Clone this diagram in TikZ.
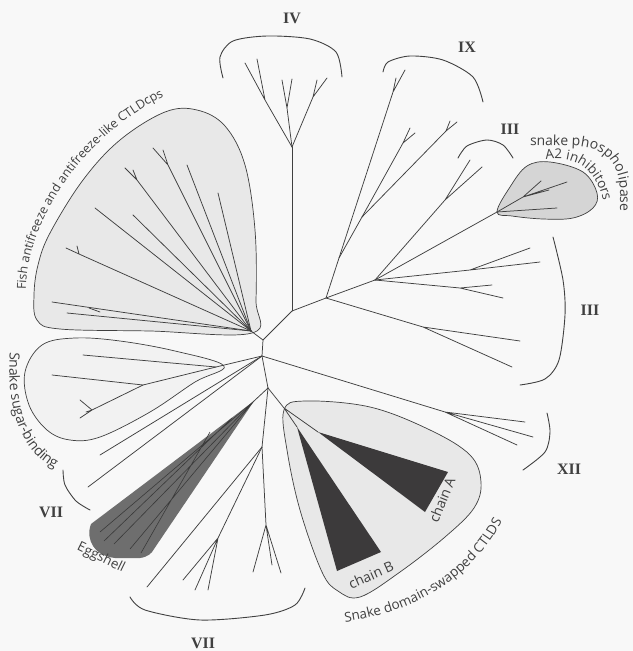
\documentclass[tikz,border=0pt]{standalone}
\usepackage{fontspec}
\setmainfont{Liberation Serif}
\newfontfamily\labfont{Open Sans}
\usetikzlibrary{decorations.text}
\definecolor{ink}{HTML}{404040}
\definecolor{bgc}{HTML}{F8F8F8}
\definecolor{blobA}{HTML}{E8E8E8}
\definecolor{blobS}{HTML}{F2F2F2}
\definecolor{blobP}{HTML}{D5D5D5}
\definecolor{eggc}{HTML}{6E6E6E}
\definecolor{eggline}{HTML}{3A3A3A}
\definecolor{chainc}{HTML}{3C3A3B}
\begin{document}
\begin{tikzpicture}[x=1bp,y=-1bp,
  br/.style={draw=ink,line width=0.75bp,line cap=round,line join=round},
  bracket/.style={draw=ink,line width=0.9bp,line cap=round},
  roman/.style={font=\bfseries\fontsize{16}{16}\selectfont,text=ink,inner sep=0pt},
  lab/.style={font=\labfont\fontsize{14}{14}\selectfont,text=ink,inner sep=0pt},
  blob/.style={draw=ink,line width=0.7bp},
  curvetext/.style={decorate,decoration={text along path,text color=ink,text={#1}}}]
\useasboundingbox (0,0) rectangle (633,651);
\fill[bgc] (0,0) rectangle (633,651);

% ---------- clade areas ----------
\filldraw[blob,fill=blobA] plot[smooth cycle,tension=0.6] coordinates {(252,333) (150,331) (60,329) (37,320) (34,295) (38,265) (50,233) (83,180) (120,140) (165,112) (197,110) (225,126) (245,165) (255,230) (256,300)};
\filldraw[blob,fill=blobS] plot[smooth cycle,tension=0.6] coordinates {(224,366) (175,351) (120,341) (75,338) (42,345) (25,372) (29,405) (47,430) (70,440) (100,437) (150,412) (195,382)};
\filldraw[blob,fill=blobA] plot[smooth cycle,tension=0.6] coordinates {(284,410) (305,401) (370,407) (430,430) (470,455) (481,482) (474,508) (445,537) (400,572) (360,597) (338,591) (322,572) (300,510) (287,450)};
\filldraw[blob,fill=blobP] plot[smooth cycle,tension=0.6] coordinates {(497,212) (510,187) (527,166) (550,162) (583,172) (597,193) (593,208) (573,218) (543,219) (512,216)};

% ---------- junctions ----------
\coordinate (F) at (251,331);
\coordinate (A) at (263,340);
\coordinate (K) at (292,311);
\coordinate (J1) at (326,298);
\coordinate (J2) at (375,280);
\coordinate (R) at (262,356);
\coordinate (R2) at (268,388);
\coordinate (S0) at (216,367);
\coordinate (IV0) at (292,147);
\coordinate (IXf) at (393,92);
\coordinate (A1) at (339,258);
\coordinate (A2) at (403,143);
\coordinate (B1) at (362,217);
\coordinate (B2) at (446,131);
\coordinate (C1) at (470,270);
\coordinate (C2) at (460,288);
\coordinate (U1) at (445,200);
\coordinate (P) at (497,212);
\coordinate (P1) at (523,197);
\coordinate (G1) at (423,327);
\coordinate (X1) at (445,412);
\coordinate (S1) at (143,385);
\coordinate (S2) at (92,410);
\coordinate (E0) at (254,401);
\coordinate (V1) at (262,447);
\coordinate (V2) at (218,538);
\coordinate (V3) at (266,525);
\coordinate (D) at (284,408);
\coordinate (CB) at (297,427);
\coordinate (CA) at (318,432);

% ---------- eggshell wedge ----------
\fill[eggc] (E0) -- (91,524) .. controls (85,540) and (95,556) .. (115,558) -- (140,558) .. controls (148,557) and (152,553) .. (154,549) -- cycle;
\draw[eggline,line width=0.6bp] (E0) -- (100,532) (E0) -- (114,544) (E0) -- (130,549) (210,432) -- (141,553) (232,418) -- (104,541);

% ---------- chains ----------
\fill[chainc] (CB) -- (337,571) -- (381,552) -- cycle;
\fill[chainc] (CA) -- (448,472) -- (425,512) -- cycle;

% ---------- backbone ----------
\draw[br] (F) -- (A) -- (K) -- (J1) -- (J2);
\draw[br] (A) -- (R) -- (R2);
\draw[br] (K) -- (IV0);
\draw[br] (R2) -- (E0);
\draw[br] (R2) -- (D) (D) -- (CB) (D) -- (CA);
\draw[br] (R2) -- (V1);

% IV
\coordinate (IVa) at (265,100); \coordinate (IVb) at (287,108); \coordinate (IVc) at (313,97);
\draw[br] (IV0) -- (IVa) -- (245,63) (IVa) -- (257,59);
\draw[br] (IV0) -- (IVb) -- (282,80) (IVb) -- (292,79);
\draw[br] (IV0) -- (IVc) -- (327,78) (IVc) -- (317,80);

% IX and neighbours
\draw[br] (J1) -- (A1) -- (IXf) -- (405,70) (IXf) -- (396,78);
\draw[br] (A1) -- (B1) -- (A2) -- (410,128) (A2) -- (415,133);
\draw[br] (B1) -- (B2) -- (450,121) (B2) -- (457,122);

% III lower, III upper, PLA2
\draw[br] (J2) -- (C1) -- (540,262) (C1) -- (530,248);
\draw[br] (J2) -- (C2) -- (492,285) (C2) -- (503,298);
\draw[br] (J2) -- (U1) -- (482,167) (U1) -- (470,160);
\draw[br] (J2) -- (P) -- (557,208);
\draw[br] (P) -- (P1) -- (567,182) (P1) -- (541,181) (P1) -- (549,190);
\draw[br] (J1) -- (G1) -- (520,341) (G1) -- (512,367);

% XII
\draw[br] (R) -- (X1) -- (525,422) (X1) -- (533,437) (X1) -- (517,445);

% fish
\draw[br] (F) -- (218,193);
\draw[br] (F) -- (187,165);
\draw[br] (F) -- (168,165) -- (153,148) (168,165) -- (163,150);
\draw[br] (F) -- (137,180) -- (125,168) (137,180) -- (133,170);
\draw[br] (F) -- (133,215);
\draw[br] (F) -- (95,208);
\draw[br] (F) -- (79,254) -- (66,248) (79,254) -- (77,246);
\draw[br] (F) -- (52,302);
\draw[br] (F) -- (67,313) (100,312) -- (89,308);

% sugar-binding
\draw[br] (R) -- (S0) -- (83,355);
\draw[br] (S0) -- (S1) -- (52,375);
\draw[br] (S1) -- (S2) -- (80,400) (S2) -- (80,418) (S2) -- (86,412);

% lines between
\draw[br] (R) -- (100,455);
\draw[br] (R) -- (88,487);

% VII lower
\draw[br] (V1) -- (147,587);
\draw[br] (V1) -- (V2) -- (183,580) (V2) -- (195,590) (V2) -- (208,590);
\draw[br] (V1) -- (V3) -- (253,572) (V3) -- (272,565) (V3) -- (281,573);

% ---------- brackets ----------
\draw[bracket] plot[smooth] coordinates {(223,78) (220,57) (233,41) (267,36) (310,39) (336,52) (342,77)};
\draw[bracket] plot[smooth] coordinates {(383,72) (388,62) (410,56) (443,60) (473,77) (483,102)};
\draw[bracket] plot[smooth] coordinates {(458,158) (467,146) (487,140) (503,145) (513,158)};
\draw[bracket] plot[smooth] coordinates {(553,237) (563,280) (565,315) (559,360) (545,379) (520,385)};
\draw[bracket] plot[smooth] coordinates {(547,413) (550,432) (545,452) (523,470)};
\draw[bracket] plot[smooth] coordinates {(63,470) (65,485) (76,501) (90,510)};
\draw[bracket] plot[smooth] coordinates {(130,597) (145,610) (200,620) (265,615) (295,605) (305,588)};

% ---------- roman labels ----------
\node[roman] (lIV) at (292,18) {IV};
\node[roman] (lIX) at (467,47) {IX};
\node[roman] (lIIIa) at (510,129) {III};
\node[roman] (lIIIb) at (590,310) {III};
\node[roman] (lXII) at (569,469) {XII};
\node[roman] (lVIIa) at (51,512) {VII};
\node[roman] (lVIIb) at (203,643) {VII};

% ---------- text labels ----------
\node[lab,font=\labfont\fontsize{13.5}{13.5}\selectfont,rotate=-26] (legg) at (101,558) {Eggshell};
\node[lab,rotate=24] (lchB) at (371,575) {chain B};
\node[lab,rotate=68] (lchA) at (442,500) {chain A};

\path[curvetext={|\labfont\fontsize{12.5}{12.5}\selectfont|Fish antifreeze and antifreeze-like CTLDcps}] (26,290) .. controls (26,222) and (85,128) .. (182,88);
\path[curvetext={|\labfont\fontsize{14}{14}\selectfont|Snake sugar-binding}] (10,352) .. controls (5,420) and (28,470) .. (80,476);
\path[curvetext={|\labfont\fontsize{13.5}{13.5}\selectfont|Snake domain-swapped CTLDS}] (345,622) .. controls (420,612) and (488,570) .. (514,494);
\path[curvetext={|\labfont\fontsize{14}{14}\selectfont|snake phospholipase}] (530,145) -- (576,146) .. controls (601,147) and (619,160) .. (620,190) -- (620,240);
\path[curvetext={|\labfont\fontsize{13.5}{13.5}\selectfont|A2 inhibitors}] (546,160) .. controls (575,155) and (597,168) .. (604,205);
\end{tikzpicture}
\end{document}
